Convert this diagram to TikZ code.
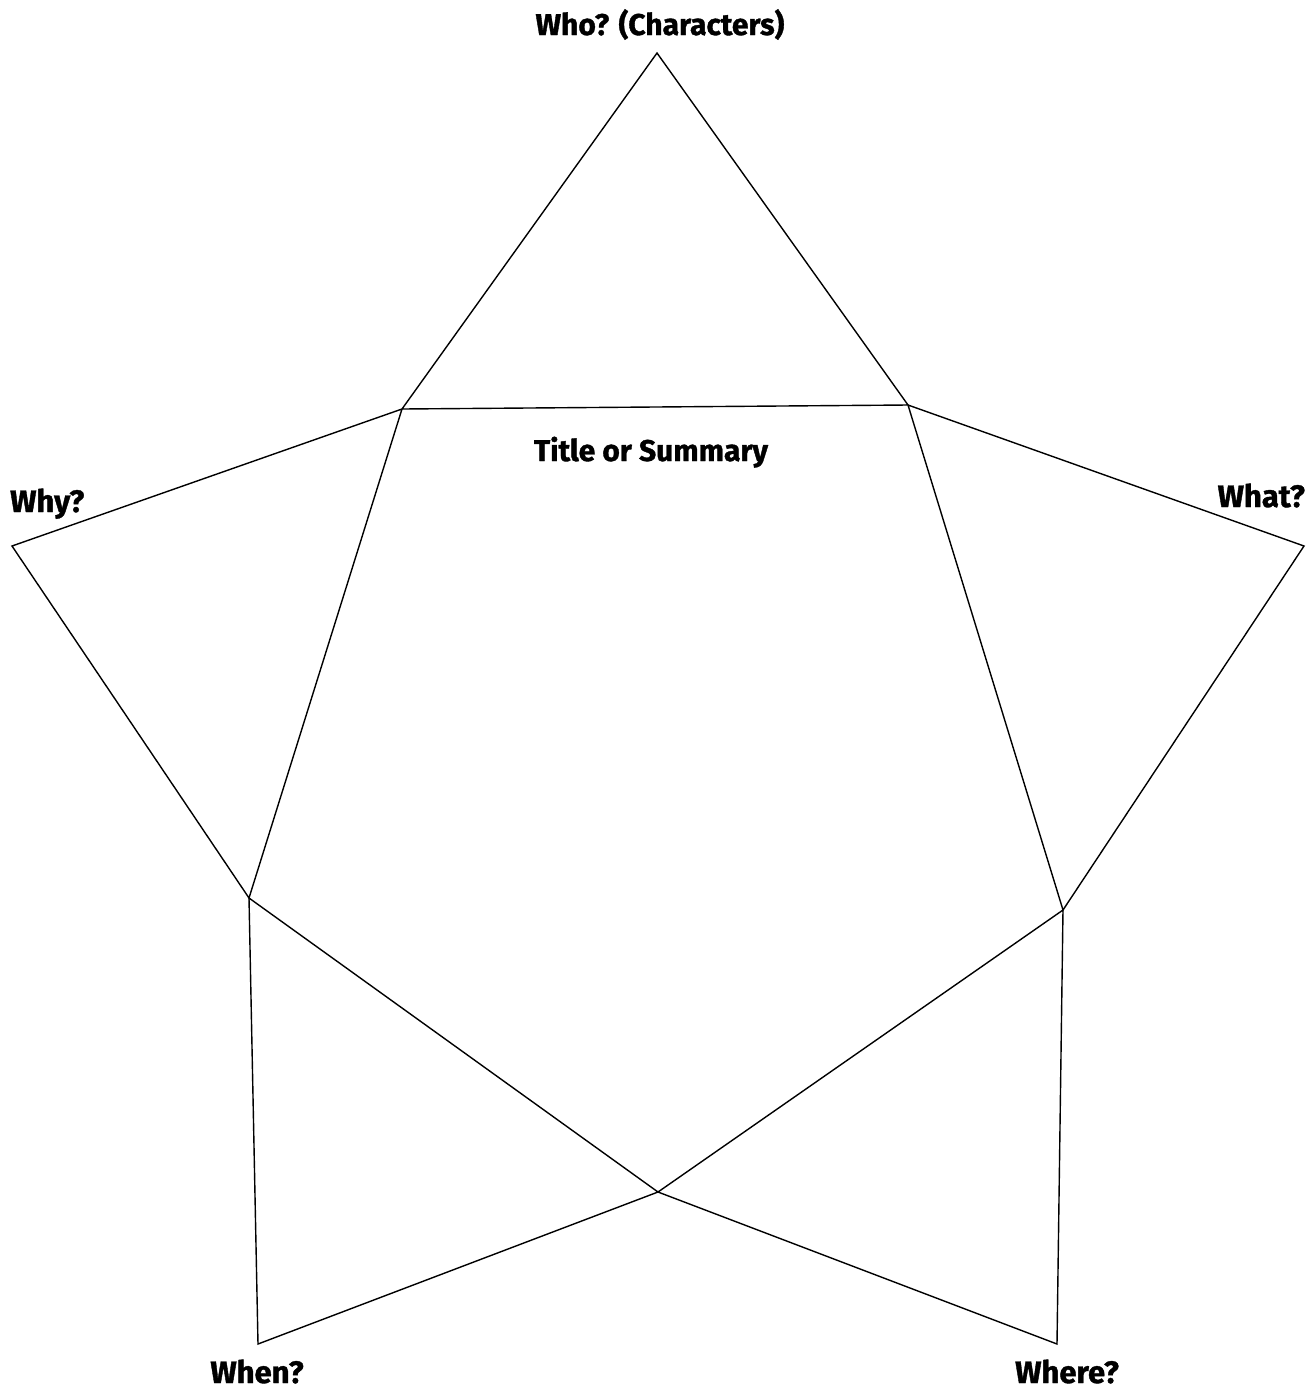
\documentclass[tikz,border=0pt]{standalone}
\usepackage{fontspec}
\setmainfont{Fira Sans}[BoldFeatures={FakeBold=1.2}]
\begin{document}
\begin{tikzpicture}[x=1pt,y=-1pt,
  edge/.style={line width=1.4pt, line join=miter},
  lab/.style={inner sep=0pt, font=\bfseries\fontsize{30}{33}\selectfont},
  corner/.style={inner sep=0pt, font=\bfseries\fontsize{31}{34}\selectfont}]
\useasboundingbox (0,0) rectangle (1313,1393);
% vertices
\coordinate (top) at (657,53);
\coordinate (ul) at (402,409);
\coordinate (ur) at (908,405);
\coordinate (why) at (12,546);
\coordinate (what) at (1304,546);
\coordinate (ll) at (249,898);
\coordinate (lr) at (1063,910);
\coordinate (bot) at (658,1192);
\coordinate (when) at (258,1344);
\coordinate (where) at (1057,1344);
% star
\draw[edge] (ul) -- (top) -- (ur) -- (ul);
\draw[edge] (ul) -- (why) -- (ll) -- (ul);
\draw[edge] (ur) -- (what) -- (lr) -- (ur);
\draw[edge] (ll) -- (bot) -- (when) -- (ll);
\draw[edge] (lr) -- (bot) -- (where) -- (lr);
% labels
\node[lab, anchor=base] (lwho) at (660,35) {Who? (Characters)};
\node[lab, anchor=base] (ltitle) at (651,461) {Title or Summary};
\node[corner, anchor=base west] (lwhy) at (10,512) {Why?};
\node[corner, anchor=base east] (lwhat) at (1305,507) {What?};
\node[corner, anchor=base] (lwhen) at (257,1383) {When?};
\node[corner, anchor=base] (lwhere) at (1067,1383) {Where?};
\end{tikzpicture}
\end{document}
